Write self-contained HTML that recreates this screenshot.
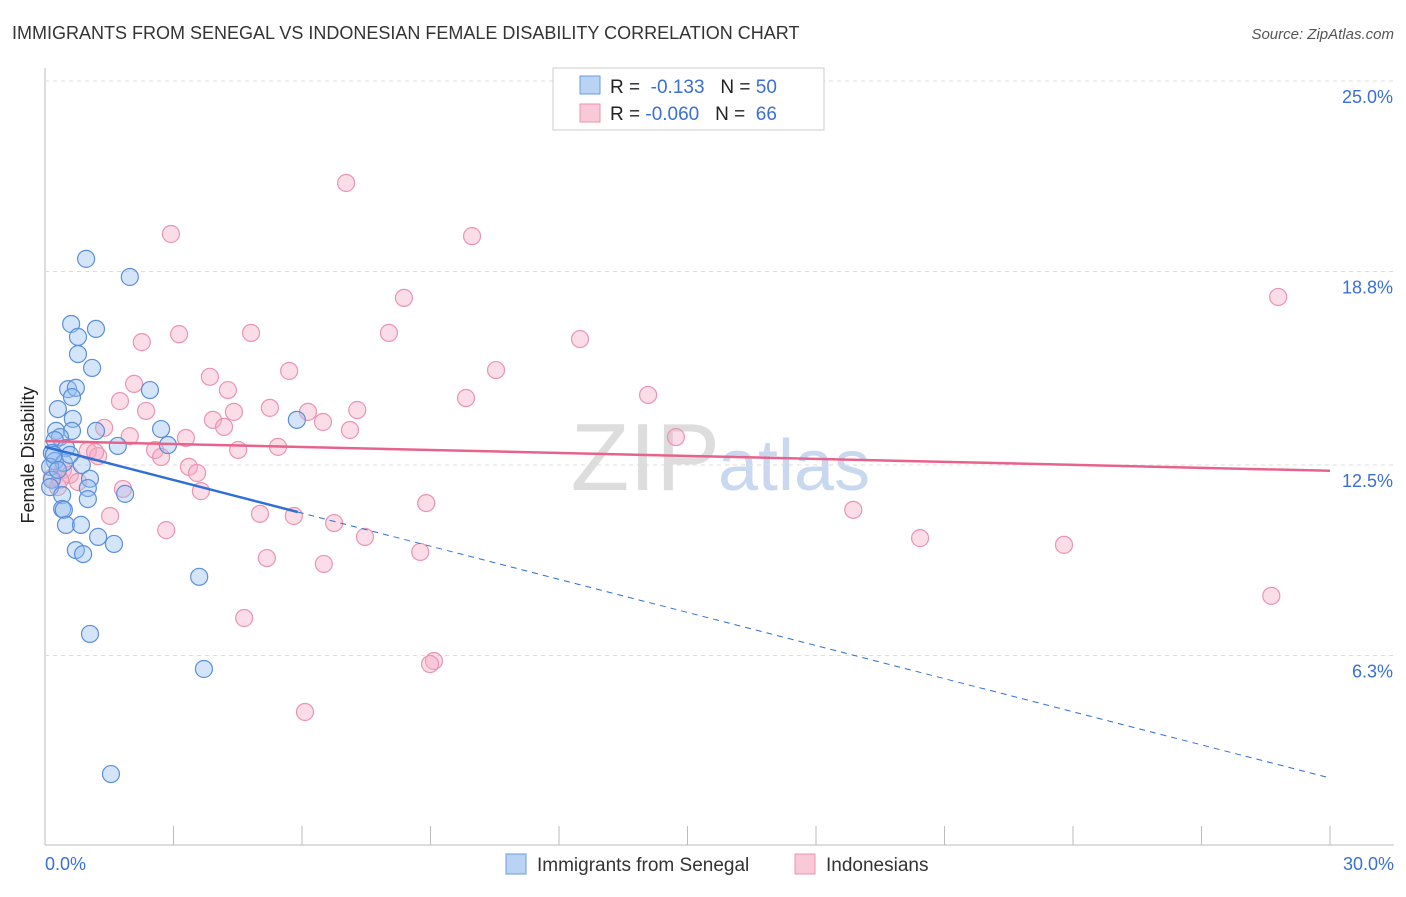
<!DOCTYPE html>
<html><head><meta charset="utf-8"><style>
body{margin:0;background:#fff;font-family:"Liberation Sans",sans-serif}
svg text{font-family:"Liberation Sans",sans-serif}
</style></head><body>
<svg id="c" width="1406" height="892">
<text x="12" y="39" font-size="18" fill="#333">IMMIGRANTS FROM SENEGAL VS INDONESIAN FEMALE DISABILITY CORRELATION CHART</text>
<text x="1394" y="39" font-size="15" fill="#555" font-style="italic" text-anchor="end">Source: ZipAtlas.com</text>
<text x="720" y="490" font-size="96" fill="#ddd" text-anchor="end" font-family="Liberation Serif">ZIP</text>
<text x="718" y="490" font-size="72" fill="#c8d8ee">atlas</text>
<g id="grid"></g>
<g id="pts"></g>
<g id="lines"></g>
<text transform="translate(34,455) rotate(-90)" font-size="18" fill="#222" text-anchor="middle">Female Disability</text>
<text x="45" y="870" font-size="18" fill="#3a6fd8">0.0%</text>
<text x="1394" y="870" font-size="18" fill="#3a6fd8" text-anchor="end">30.0%</text>
<g>
<rect x="553" y="68" width="271" height="62" fill="#fff" stroke="#ccc"/>
<rect x="580" y="76" width="20" height="18" fill="#b9d3f5" stroke="#6b9de0"/>
<rect x="580" y="104" width="20" height="18" fill="#f9c9d7" stroke="#eb94b0"/>
<text x="610" y="93" font-size="19" fill="#222">R = <tspan fill="#3a6fd8">&#160;-0.133</tspan>&#160;&#160;&#160;N = <tspan fill="#3a6fd8">50</tspan></text>
<text x="610" y="120" font-size="19" fill="#222">R = <tspan fill="#3a6fd8">-0.060</tspan>&#160;&#160;&#160;N = <tspan fill="#3a6fd8">&#160;66</tspan></text>
</g>
<g>
<rect x="506" y="854" width="20" height="20" fill="#b9d3f5" stroke="#6b9de0"/>
<text x="537" y="871" font-size="19" fill="#333">Immigrants from Senegal</text>
<rect x="795" y="854" width="20" height="20" fill="#f9c9d7" stroke="#eb94b0"/>
<text x="826" y="871" font-size="19" fill="#333">Indonesians</text>
</g>
</svg>
<script>
const yTicks=[25.0,18.8,12.5,6.3];
const yTickLabels=["25.0%","18.8%","12.5%","6.3%"];
const xTicks=[0,3,6,9,12,15,18,21,24,27,30];
const blueData=[[0.96,19.21],[1.98,18.62],[0.61,17.09],[1.19,16.93],[0.77,16.67],[0.77,16.11],[1.10,15.66],[0.54,14.97],[0.72,15.01],[0.63,14.71],[2.45,14.94],[0.30,14.32],[0.65,14.00],[0.26,13.61],[0.63,13.61],[0.35,13.41],[1.19,13.61],[2.71,13.67],[5.88,13.97],[1.70,13.12],[2.87,13.15],[0.23,13.31],[0.49,13.05],[0.16,12.89],[0.23,12.63],[0.86,12.50],[0.44,12.57],[0.12,12.44],[0.16,12.02],[1.05,12.05],[1.00,11.75],[0.12,11.78],[1.87,11.56],[0.40,11.52],[1.00,11.39],[0.40,11.07],[0.44,11.04],[0.49,10.55],[0.84,10.55],[1.24,10.16],[0.72,9.73],[0.89,9.60],[1.61,9.93],[3.60,8.86],[1.05,7.00],[3.71,5.86],[1.54,2.44],[0.21,12.83],[0.30,12.34],[0.58,12.83]];
const pinkData=[[7.03,21.68],[2.94,20.02],[9.97,19.95],[8.38,17.94],[28.79,17.97],[3.13,16.76],[4.81,16.80],[8.03,16.80],[2.26,16.50],[12.49,16.60],[5.70,15.56],[10.53,15.59],[3.85,15.37],[2.08,15.14],[4.27,14.94],[9.83,14.68],[14.08,14.78],[1.75,14.58],[5.25,14.36],[2.36,14.26],[6.14,14.23],[7.29,14.29],[4.41,14.23],[3.92,13.97],[6.49,13.90],[4.18,13.74],[1.38,13.71],[3.29,13.38],[7.12,13.64],[14.73,13.41],[1.98,13.44],[2.57,12.99],[5.44,13.09],[4.51,12.99],[1.00,12.96],[1.24,12.79],[2.71,12.76],[3.36,12.44],[3.55,12.24],[0.42,12.34],[0.58,12.18],[0.16,12.08],[0.30,11.78],[0.77,11.95],[1.82,11.72],[3.64,11.65],[8.90,11.26],[5.02,10.91],[5.81,10.84],[1.52,10.84],[6.75,10.61],[2.83,10.38],[7.47,10.16],[18.87,11.04],[20.43,10.12],[5.18,9.47],[8.76,9.67],[6.51,9.28],[23.79,9.90],[28.63,8.24],[4.65,7.52],[9.08,6.12],[8.99,6.02],[6.07,4.46],[0.35,12.02],[1.17,12.92]];
const blueTrend=[13.09,-0.3593]; // intercept, slope
const pinkTrend=[13.28,-0.0323];
const blueSolidEnd=5.9;
const X=v=>45+v*(1285/30);
const Y=v=>81+(25-v)*30.72;
const NS="http://www.w3.org/2000/svg";
function mk(tag,attrs,parent){const e=document.createElementNS(NS,tag);for(const k in attrs)e.setAttribute(k,attrs[k]);parent.appendChild(e);return e;}
const grid=document.getElementById('grid');
const ax=mk('line',{x1:45,y1:68,x2:45,y2:845,stroke:'#bbb'},grid);


const bx=mk('line',{x1:45,y1:845,x2:1394,y2:845,stroke:'#bbb'},grid);


yTicks.forEach((t,i)=>{
 const g=mk('line',{x1:45,x2:1394,y1:Y(t),y2:Y(t),stroke:'#ddd','stroke-dasharray':'4,4'},grid);
 
 
 const l=mk('text',{x:1393,y:Y(t)+22,'font-size':18,fill:'#3a6fd8','text-anchor':'end'},grid);
 l.textContent=yTickLabels[i];
 
 
});
xTicks.forEach(t=>{
 const k=mk('line',{x1:X(t),x2:X(t),y1:826,y2:845,stroke:'#bbb'},grid);
 
 
});
const pts=document.getElementById('pts');
pinkData.forEach(d=>{
 const c=mk('circle',{cx:X(d[0]),cy:Y(d[1]),r:8.5,fill:'rgba(246,170,195,0.4)',stroke:'#eb94b0','stroke-width':1.2},pts);
 
 
});
blueData.forEach(d=>{
 const c=mk('circle',{cx:X(d[0]),cy:Y(d[1]),r:8.5,fill:'rgba(150,190,240,0.4)',stroke:'#5a8fdc','stroke-width':1.2},pts);
 
 
});
const lines=document.getElementById('lines');
const f=(t,x)=>t[0]+t[1]*x;
const pl=mk('line',{x1:X(0),y1:Y(f(pinkTrend,0)),x2:X(30),y2:Y(f(pinkTrend,30)),stroke:'#e8638c','stroke-width':2.5},lines);


const bl=mk('line',{x1:X(0),y1:Y(f(blueTrend,0)),x2:X(blueSolidEnd),y2:Y(f(blueTrend,blueSolidEnd)),stroke:'#2f6fd6','stroke-width':2.5},lines);


const bd=mk('line',{x1:X(blueSolidEnd),y1:Y(f(blueTrend,blueSolidEnd)),x2:X(30),y2:Y(f(blueTrend,30)),stroke:'#2f6fd6','stroke-width':1,'stroke-dasharray':'6,5'},lines);


</script>
</body></html>
